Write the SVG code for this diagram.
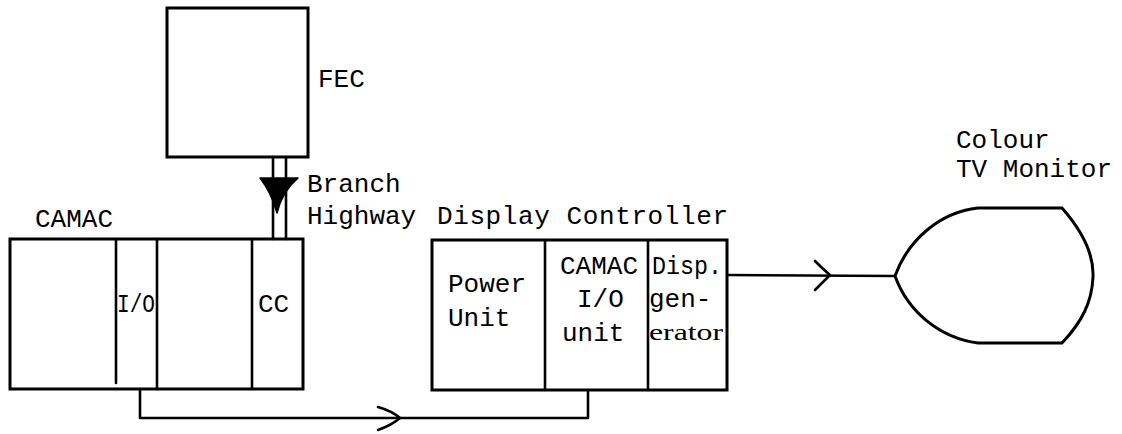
<svg xmlns="http://www.w3.org/2000/svg" width="1122" height="434" viewBox="0 0 1122 434">
<style>
.box{fill:none;stroke:#000;stroke-width:3}
.ln{fill:none;stroke:#000;stroke-width:2.6;stroke-linecap:round;stroke-linejoin:round}
.t{font-family:"Liberation Mono","Courier New",monospace;font-size:26px;fill:#000}
.n{font-family:"Liberation Serif","Times New Roman",serif;font-size:24px;fill:#000}
</style>
<rect width="1122" height="434" fill="#fff"/>
<g id="fec">
<rect class="box" x="167" y="8" width="141" height="149"/>
<text class="t" x="318" y="87">FEC</text>
</g>
<g id="camac">
<rect class="box" x="10" y="239" width="293" height="150"/>
<line class="ln" x1="116" y1="239" x2="116" y2="383"/>
<line class="ln" x1="157" y1="239" x2="157" y2="389"/>
<line class="ln" x1="252" y1="239" x2="252" y2="389"/>
<text class="t" x="35" y="227">CAMAC</text>
<text class="t" x="117" y="312" textLength="38" lengthAdjust="spacingAndGlyphs">I/O</text>
<text class="t" x="258" y="312">CC</text>
</g>
<g id="display-controller">
<rect class="box" x="432" y="240" width="295" height="150"/>
<line class="ln" x1="545" y1="240" x2="545" y2="390"/>
<line class="ln" x1="648" y1="240" x2="648" y2="390"/>
<text class="t" x="437" y="224" textLength="291" lengthAdjust="spacing">Display Controller</text>
<text class="t" x="448" y="292">Power</text>
<text class="t" x="448" y="326">Unit</text>
<text class="t" x="560" y="274">CAMAC</text>
<text class="t" x="577" y="307">I/O</text>
<text class="t" x="562" y="341">unit</text>
<text class="t" x="652" y="274" textLength="70" lengthAdjust="spacingAndGlyphs">Disp.</text>
<text class="t" x="649" y="307">gen-</text>
<text class="n" x="649" y="340" textLength="74" lengthAdjust="spacingAndGlyphs">erator</text>
</g>
<g id="tv-monitor">
<path class="box" d="M895,276 C908,240 940,212 978,208 L1062,208 C1084,233 1094,255 1093,277 C1092,302 1082,322 1062,343 L978,343 C940,338 908,312 895,276 Z"/>
<text class="t" x="956" y="148">Colour</text>
<text class="t" x="956" y="177">TV Monitor</text>
</g>
<g id="connectors">
<line class="ln" x1="273" y1="157" x2="273" y2="239"/>
<line class="ln" x1="286" y1="157" x2="286" y2="239"/>
<path d="M260,178 L298,178 Q282,192 277,213 Q271,192 260,178 Z" fill="#000" stroke="#000" stroke-width="1.5" stroke-linejoin="round"/>
<text class="t" x="307" y="192">Branch</text>
<text class="t" x="307" y="224">Highway</text>
<polyline class="ln" points="140,389 140,418 588,418 588,390"/>
<path class="ln" d="M378,407 Q392,411 400,418 Q392,425 378,430"/>
<line class="ln" x1="727" y1="275" x2="895" y2="276"/>
<path class="ln" d="M815,261 Q824,270 830,275 Q824,281 815,290"/>
</g>
</svg>
